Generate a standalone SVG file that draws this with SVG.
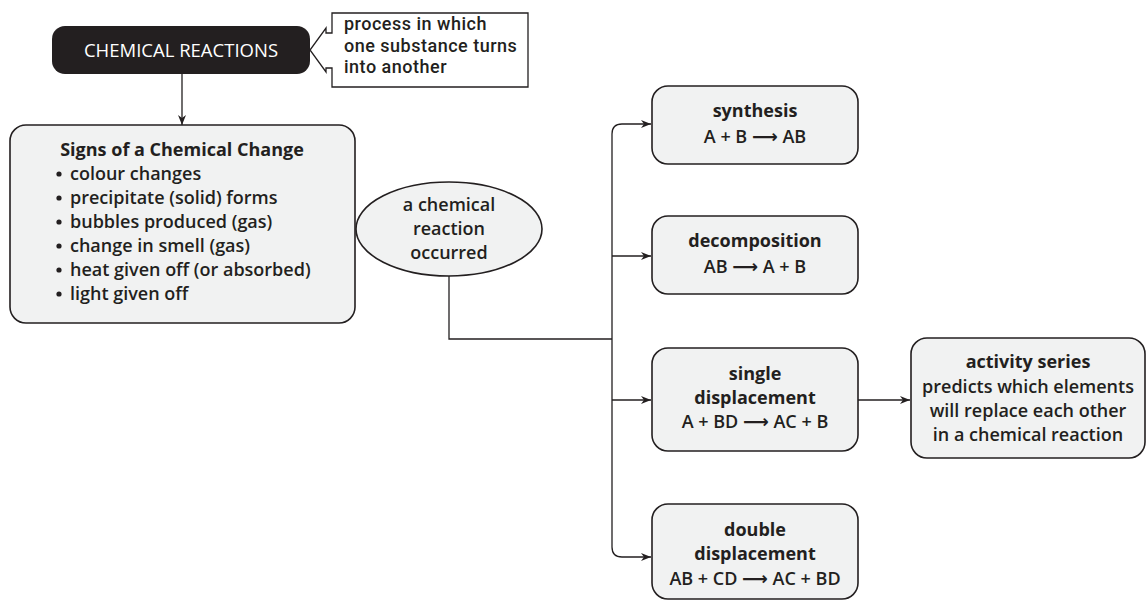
<svg xmlns="http://www.w3.org/2000/svg" width="1147" height="601" viewBox="0 0 1147 601">
<defs>
<style>
.box{fill:#f1f2f2;stroke:#231f20;stroke-width:1.6}
.ln{fill:none;stroke:#231f20;stroke-width:1.3}
text{font-family:"Open Sans","Noto Sans","DejaVu Sans",sans-serif;font-size:18px;fill:#231f20;font-weight:600}
.c{text-anchor:middle}
.b{font-weight:700}
.w{fill:#ffffff;font-weight:500;font-size:18.5px}
.t{font-family:Roboto,"Open Sans",sans-serif;font-weight:500;letter-spacing:0.5px}
.dot{fill:#231f20}
</style>
<marker id="ah" viewBox="0 0 10 10" refX="10" refY="5" markerWidth="10" markerHeight="10" markerUnits="userSpaceOnUse" orient="auto">
<path d="M0,1 L10,5 L0,9 L3,5 Z" fill="#231f20"/>
</marker>
</defs>
<rect width="1147" height="601" fill="#ffffff"/>

<g id="connectors">
<line class="ln" x1="182" y1="74" x2="182" y2="125" marker-end="url(#ah)"/>
<polyline class="ln" points="449,276 449,339 612,339"/>
<path class="ln" d="M612,547 V134 Q612,124 622,124 H651" marker-end="url(#ah)"/>
<path class="ln" d="M612,547 Q612,557 622,557 H651" marker-end="url(#ah)"/>
<line class="ln" x1="612" y1="256" x2="651" y2="256" marker-end="url(#ah)"/>
<line class="ln" x1="612" y1="400" x2="651" y2="400" marker-end="url(#ah)"/>
<line class="ln" x1="858" y1="400" x2="910" y2="400" marker-end="url(#ah)"/>
</g>

<g id="chemical-reactions">
<rect x="52" y="26" width="258" height="48" rx="13" fill="#231f20"/>
<text class="c w" x="181" y="57">CHEMICAL REACTIONS</text>
</g>

<g id="definition">
<path d="M332,13 H528 V87 H332 V68 H326 V72 L310,50 L326,28 V33 H332 Z" fill="#ffffff" stroke="#231f20" stroke-width="1.3"/>
<text class="t" x="344" y="30">process in which</text>
<text class="t" x="344" y="51.5">one substance turns</text>
<text class="t" x="344" y="73">into another</text>
</g>

<g id="signs">
<rect class="box" x="10" y="125" width="345" height="198" rx="16"/>
<text class="c b" x="182" y="156">Signs of a Chemical Change</text>
<circle class="dot" cx="59" cy="174" r="2.6"/>
<circle class="dot" cx="59" cy="198" r="2.6"/>
<circle class="dot" cx="59" cy="222" r="2.6"/>
<circle class="dot" cx="59" cy="246" r="2.6"/>
<circle class="dot" cx="59" cy="270" r="2.6"/>
<circle class="dot" cx="59" cy="294" r="2.6"/>
<text x="70" y="180">colour changes</text>
<text x="70" y="204">precipitate (solid) forms</text>
<text x="70" y="228">bubbles produced (gas)</text>
<text x="70" y="252">change in smell (gas)</text>
<text x="70" y="276">heat given off (or absorbed)</text>
<text x="70" y="300">light given off</text>
</g>

<g id="occurred">
<ellipse class="box" cx="449" cy="229" rx="93" ry="47"/>
<text class="c" x="449" y="211">a chemical</text>
<text class="c" x="449" y="235">reaction</text>
<text class="c" x="449" y="259">occurred</text>
</g>

<g id="synthesis">
<rect class="box" x="652" y="86" width="206" height="78" rx="16"/>
<text class="c b" x="755" y="117">synthesis</text>
<text class="c" x="755" y="143">A + B ⟶ AB</text>
</g>

<g id="decomposition">
<rect class="box" x="652" y="216" width="206" height="78" rx="16"/>
<text class="c b" x="755" y="247">decomposition</text>
<text class="c" x="755" y="273">AB ⟶ A + B</text>
</g>

<g id="single-displacement">
<rect class="box" x="652" y="348" width="206" height="103" rx="16"/>
<text class="c b" x="755" y="380">single</text>
<text class="c b" x="755" y="404">displacement</text>
<text class="c" x="755" y="428">A + BD ⟶ AC + B</text>
</g>

<g id="double-displacement">
<rect class="box" x="652" y="504" width="206" height="95" rx="16"/>
<text class="c b" x="755" y="536">double</text>
<text class="c b" x="755" y="560">displacement</text>
<text class="c" x="755" y="585">AB + CD ⟶ AC + BD</text>
</g>

<g id="activity-series">
<rect class="box" x="911" y="338" width="234" height="120" rx="16"/>
<text class="c b" x="1028" y="368">activity series</text>
<text class="c" x="1028" y="393">predicts which elements</text>
<text class="c" x="1028" y="417">will replace each other</text>
<text class="c" x="1028" y="441">in a chemical reaction</text>
</g>
</svg>
